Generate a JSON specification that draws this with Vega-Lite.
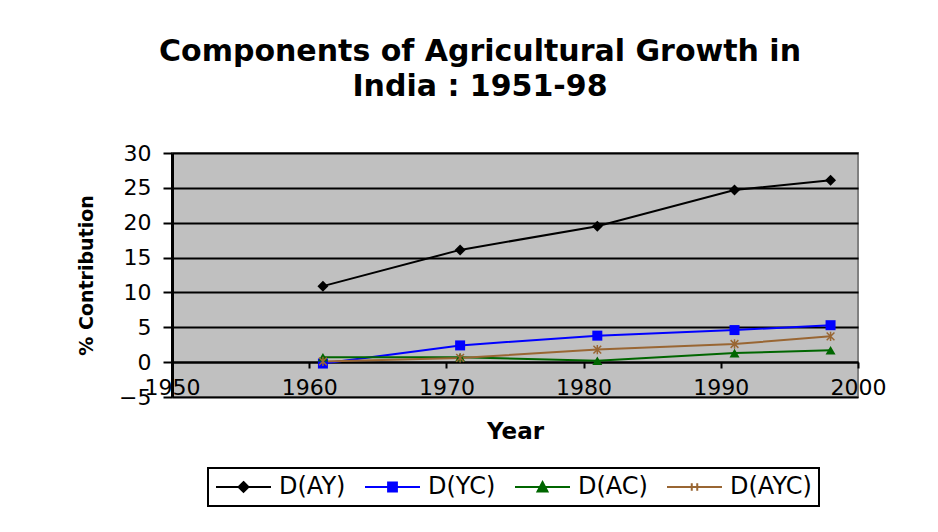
{
  "$schema": "https://vega.github.io/schema/vega-lite/v6.json",
  "width": 686,
  "height": 244,
  "autosize": {"type": "none"},
  "padding": {"left": 172, "top": 153, "right": 80, "bottom": 135},
  "background": "white",
  "title": {
    "text": ["Components of Agricultural Growth in", "India : 1951-98"],
    "font": "DejaVu Sans",
    "fontWeight": "bold",
    "fontSize": 30,
    "color": "black",
    "anchor": "middle",
    "dx": -35,
    "offset": 40,
    "lineHeight": 35
  },
  "config": {"view": {"fill": "#C0C0C0", "stroke": "#808080", "strokeWidth": 2}},
  "data": {
    "values": [
      {"series": "D(AY)", "year": 1961, "value": 10.9},
      {"series": "D(AY)", "year": 1971, "value": 16.1},
      {"series": "D(AY)", "year": 1981, "value": 19.5},
      {"series": "D(AY)", "year": 1991, "value": 24.7},
      {"series": "D(AY)", "year": 1998, "value": 26.1},
      {"series": "D(YC)", "year": 1961, "value": -0.2},
      {"series": "D(YC)", "year": 1971, "value": 2.4},
      {"series": "D(YC)", "year": 1981, "value": 3.8},
      {"series": "D(YC)", "year": 1991, "value": 4.6},
      {"series": "D(YC)", "year": 1998, "value": 5.3},
      {"series": "D(AC)", "year": 1961, "value": 0.7},
      {"series": "D(AC)", "year": 1971, "value": 0.7},
      {"series": "D(AC)", "year": 1981, "value": 0.2},
      {"series": "D(AC)", "year": 1991, "value": 1.3},
      {"series": "D(AC)", "year": 1998, "value": 1.7},
      {"series": "D(AYC)", "year": 1961, "value": 0.1},
      {"series": "D(AYC)", "year": 1971, "value": 0.6},
      {"series": "D(AYC)", "year": 1981, "value": 1.8},
      {"series": "D(AYC)", "year": 1991, "value": 2.6},
      {"series": "D(AYC)", "year": 1998, "value": 3.7}
    ]
  },
  "encoding": {
    "x": {
      "field": "year",
      "type": "quantitative",
      "scale": {"domain": [1950, 2000], "nice": false, "zero": false},
      "axis": {
        "title": "Year",
        "values": [1950, 1960, 1970, 1980, 1990, 2000],
        "format": "d",
        "offset": -35,
        "grid": false,
        "domainColor": "black",
        "domainWidth": 2,
        "tickColor": "black",
        "tickSize": 6,
        "tickWidth": 2,
        "labelFont": "DejaVu Sans",
        "labelFontSize": 22,
        "labelColor": "black",
        "labelPadding": 9,
        "labelFlush": false,
        "labelOverlap": false,
        "titleFont": "DejaVu Sans",
        "titleFontSize": 23,
        "titleFontWeight": "bold",
        "titleColor": "black",
        "titlePadding": 22
      }
    },
    "y": {
      "field": "value",
      "type": "quantitative",
      "scale": {"domain": [-5, 30], "nice": false, "zero": false},
      "axis": {
        "title": "% Contribution",
        "values": [-5, 0, 5, 10, 15, 20, 25, 30],
        "grid": true,
        "gridColor": "black",
        "gridWidth": 2,
        "gridOpacity": 1,
        "domainColor": "black",
        "domainWidth": 3,
        "tickColor": "black",
        "tickSize": 9,
        "tickWidth": 2,
        "labelFont": "DejaVu Sans",
        "labelFontSize": 22,
        "labelColor": "black",
        "labelPadding": 12,
        "labelOverlap": false,
        "titleFont": "DejaVu Sans",
        "titleFontSize": 19,
        "titleFontWeight": "bold",
        "titleColor": "black",
        "titlePadding": 22
      }
    },
    "color": {
      "field": "series",
      "type": "nominal",
      "scale": {
        "domain": ["D(AY)", "D(YC)", "D(AC)", "D(AYC)"],
        "range": ["#000000", "#0000FF", "#006600", "#996633"]
      },
      "legend": {
        "orient": "none",
        "legendX": 36,
        "legendY": 315,
        "direction": "horizontal",
        "columns": 4,
        "title": null,
        "strokeColor": "black",
        "fillColor": "white",
        "padding": 7,
        "symbolSize": 484,
        "symbolStrokeWidth": 2,
        "symbolOpacity": 1,
        "labelFont": "DejaVu Sans",
        "labelFontSize": 24,
        "labelColor": "black",
        "labelOffset": 40,
        "labelLimit": 200,
        "columnPadding": 15,
        "encode": {
          "legend": {"update": {"strokeWidth": {"value": 2}}},
          "symbols": {
            "update": {
              "shape": {"signal": "datum.value === 'D(AY)' ? 'M-1,0H4M1.5,-0.45L1.95,0L1.5,0.45L1.05,0Z' : datum.value === 'D(YC)' ? 'M-1,0H4M1.1,-0.4H1.9V0.4H1.1Z' : datum.value === 'D(AC)' ? 'M-1,0H4M1.5,-0.45L1.95,0.4H1.05Z' : 'M-1,0H4M1.25,-0.35V0.35M1.75,-0.35V0.35'"},
              "fill": {"signal": "scale('color', datum.value)"},
              "stroke": {"signal": "scale('color', datum.value)"}
            }
          }
        }
      }
    }
  },
  "layer": [
    {"mark": {"type": "line", "strokeWidth": 2}},
    {
      "transform": [{"filter": "datum.series === 'D(AY)'"}],
      "mark": {"type": "point", "filled": true, "shape": "diamond", "size": 120, "opacity": 1}
    },
    {
      "transform": [{"filter": "datum.series === 'D(YC)'"}],
      "mark": {"type": "point", "filled": true, "shape": "square", "size": 100, "opacity": 1}
    },
    {
      "transform": [{"filter": "datum.series === 'D(AC)'"}],
      "mark": {"type": "point", "filled": true, "shape": "triangle-up", "size": 100, "opacity": 1}
    },
    {
      "transform": [{"filter": "datum.series === 'D(AYC)'"}],
      "mark": {"type": "point", "filled": false, "shape": "M-1,-1L1,1M1,-1L-1,1M0,-1.2V1.2", "size": 60, "strokeWidth": 1.5, "opacity": 1}
    }
  ]
}
